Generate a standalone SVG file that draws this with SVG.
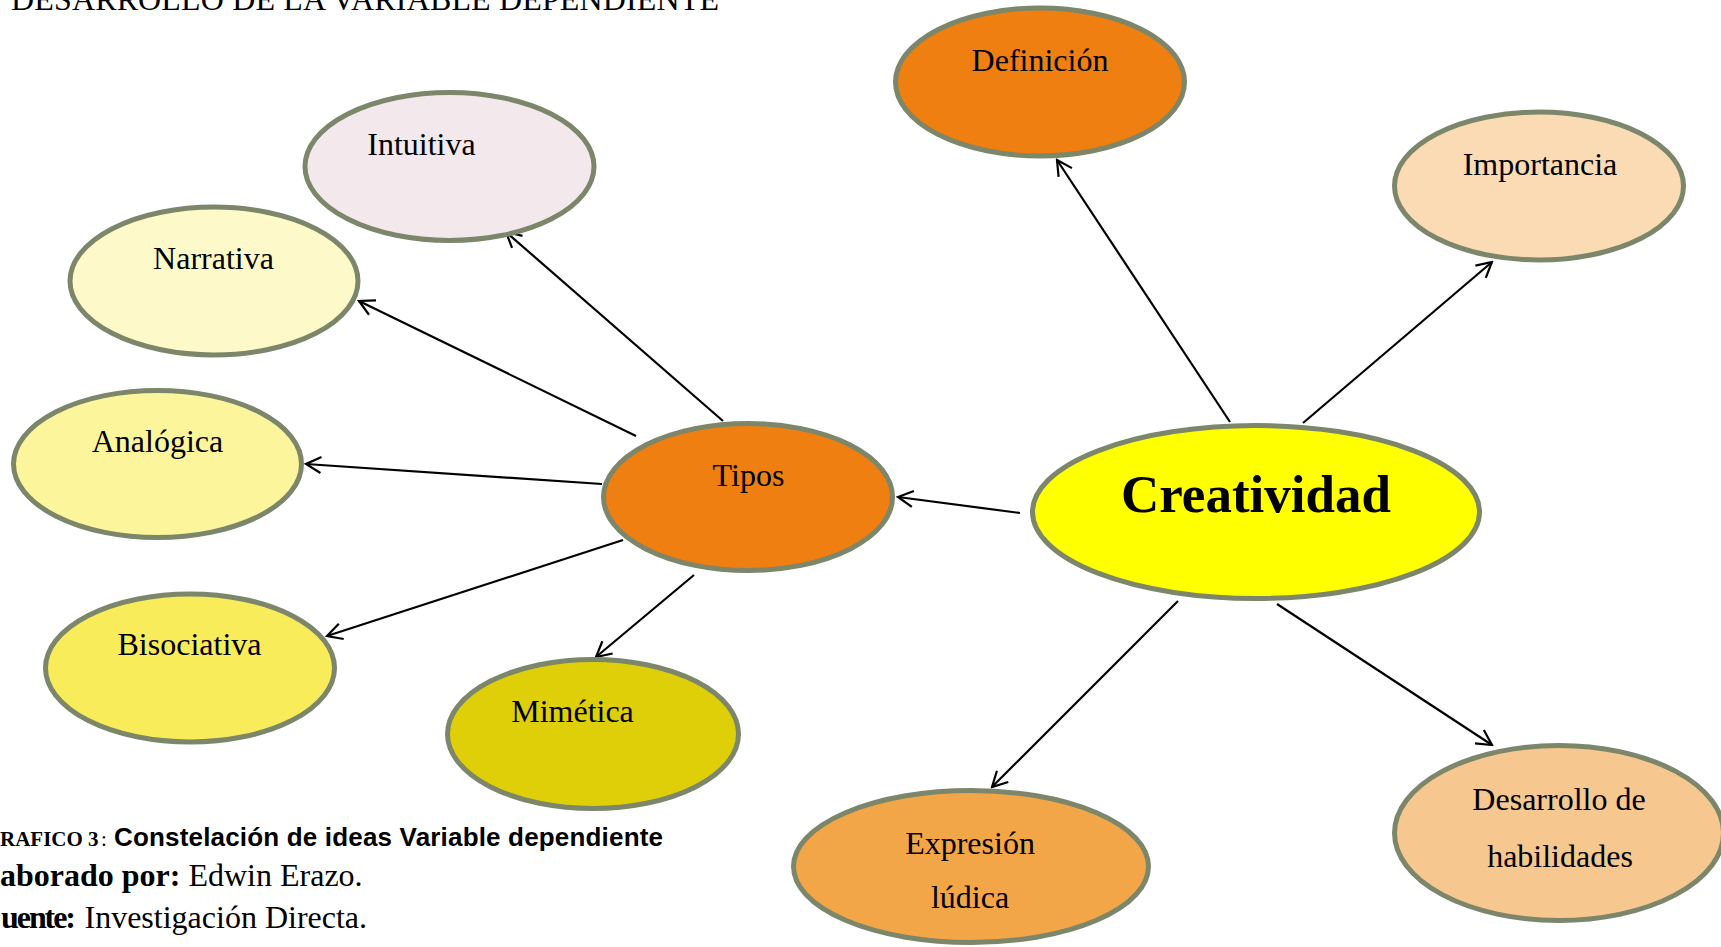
<svg xmlns="http://www.w3.org/2000/svg" width="1721" height="947" viewBox="0 0 1721 947">
<style>
.n{stroke:#7B866B;stroke-width:5}
.t{font-family:"Liberation Serif","Times New Roman",serif;font-size:32px;fill:#000;text-anchor:middle}
.c{font-family:"Liberation Serif","Times New Roman",serif;font-size:32px;fill:#000}
.e{stroke:#000;stroke-width:2.2;fill:none;marker-end:url(#arr)}
</style>
<defs>
<marker id="arr" viewBox="-17 -10 19 20" refX="0" refY="0" markerWidth="19" markerHeight="20" markerUnits="userSpaceOnUse" orient="auto">
<path d="M-15,-8 L0,0 L-15,8" fill="none" stroke="#000" stroke-width="2.2"/>
</marker>
</defs>
<rect width="1721" height="947" fill="#fff"/>
<text class="c" x="11" y="10" textLength="708">DESARROLLO DE LA VARIABLE DEPENDIENTE</text>
<g id="connectors">
<line class="e" x1="723" y1="421" x2="506" y2="232"/>
<line class="e" x1="636" y1="436" x2="359" y2="301"/>
<line class="e" x1="602" y1="484" x2="306" y2="464"/>
<line class="e" x1="623" y1="540" x2="327" y2="636"/>
<line class="e" x1="694" y1="575" x2="596" y2="657"/>
<line class="e" x1="1020" y1="513" x2="898" y2="497"/>
<line class="e" x1="1230" y1="422" x2="1057" y2="160"/>
<line class="e" x1="1303" y1="423" x2="1492" y2="262"/>
<line class="e" x1="1178" y1="601" x2="992" y2="787"/>
<line class="e" x1="1277" y1="604" x2="1492" y2="745"/>
</g>
<g id="definicion"><ellipse class="n" cx="1040" cy="82" rx="144.5" ry="74" fill="#EE7F10"/><text class="t" x="1040" y="71">Definición</text></g>
<g id="importancia"><ellipse class="n" cx="1539" cy="186" rx="144.5" ry="74" fill="#FADBB4"/><text class="t" x="1540" y="175">Importancia</text></g>
<g id="tipos"><ellipse class="n" cx="748" cy="497" rx="144.5" ry="73.5" fill="#EE7F10"/><text class="t" x="748.5" y="486">Tipos</text></g>
<g id="creatividad"><ellipse class="n" cx="1256" cy="512" rx="223.5" ry="86.5" fill="#FFFF00"/><text class="t" x="1256" y="512" style="font-size:53px;font-weight:bold">Creatividad</text></g>
<g id="intuitiva"><ellipse class="n" cx="449.5" cy="166.5" rx="144.5" ry="74" fill="#F3E8EC"/><text class="t" x="421.5" y="155">Intuitiva</text></g>
<g id="narrativa"><ellipse class="n" cx="214" cy="281" rx="144" ry="74" fill="#FEF9C8"/><text class="t" x="213.5" y="269">Narrativa</text></g>
<g id="analogica"><ellipse class="n" cx="157.5" cy="464" rx="144" ry="73.5" fill="#FDF59C"/><text class="t" x="157.5" y="452">Analógica</text></g>
<g id="bisociativa"><ellipse class="n" cx="190" cy="668" rx="144.5" ry="74" fill="#F9EC5B"/><text class="t" x="189.5" y="655">Bisociativa</text></g>
<g id="mimetica"><ellipse class="n" cx="593" cy="734" rx="145.5" ry="74.5" fill="#DFCF08"/><text class="t" x="572.5" y="722">Mimética</text></g>
<g id="expresion"><ellipse class="n" cx="971" cy="866.5" rx="177.5" ry="76" fill="#F2A647"/><text class="t" x="970" y="854">Expresión</text><text class="t" x="970" y="908">lúdica</text></g>
<g id="desarrollo"><ellipse class="n" cx="1559" cy="833" rx="164.5" ry="87.5" fill="#F6C78F"/><text class="t" x="1559" y="810">Desarrollo de</text><text class="t" x="1560" y="867">habilidades</text></g>
<g id="caption">
<text x="0" y="846" style="font-family:'Liberation Serif','Times New Roman',serif;font-size:21px;font-weight:bold">RAFICO 3</text>
<text x="101" y="846" style="font-family:'Liberation Serif','Times New Roman',serif;font-size:21px">:</text>
<text x="114" y="846" textLength="549" style="font-family:'Liberation Sans',Arial,sans-serif;font-size:26px;font-weight:bold">Constelación de ideas Variable dependiente</text>
<text class="c" x="0" y="886"><tspan font-weight="bold">aborado por:</tspan> Edwin Erazo.</text>
<text class="c" x="1" y="927.5" font-weight="bold" textLength="75">uente:</text>
<text class="c" x="84.5" y="927.5">Investigación Directa.</text>
</g>
</svg>
